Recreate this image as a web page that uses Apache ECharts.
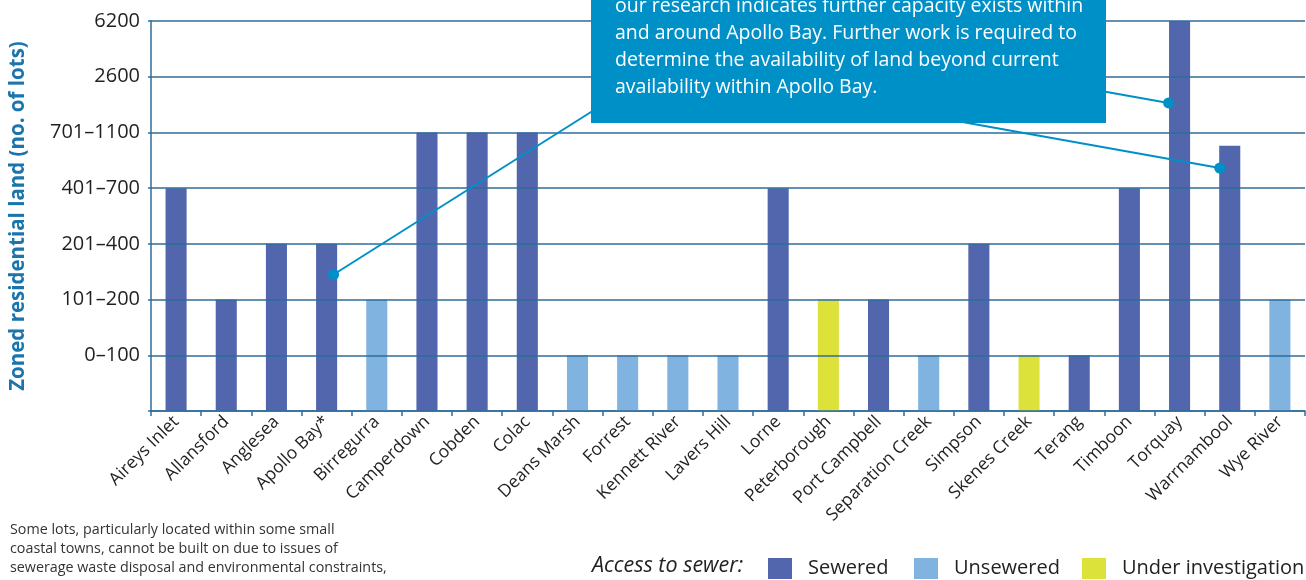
<!DOCTYPE html>
<html>
<head>
<meta charset="utf-8">
<script src="https://cdn.jsdelivr.net/npm/echarts@6/dist/echarts.min.js"></script>
<style>html,body{margin:0;padding:0;background:#fff;}#c{width:1306px;height:580px;}</style>
</head>
<body>
<div id="c"></div>
<script>
// ---- data ----
const categories = ['Aireys Inlet','Allansford','Anglesea','Apollo Bay*','Birregurra','Camperdown','Cobden','Colac','Deans Marsh','Forrest','Kennett River','Lavers Hill','Lorne','Peterborough','Port Campbell','Separation Creek','Simpson','Skenes Creek','Terang','Timboon','Torquay','Warrnambool','Wye River'];
// values are band levels: 1 = 0–100, 2 = 101–200, 3 = 201–400, 4 = 401–700, 5 = 701–1100, 6 = 2600, 7 = 6200
const sewered = [4,2,3,3,null,5,5,5,null,null,null,null,4,null,2,null,3,null,1,4,7,4.76,null];
const unsewered = [null,null,null,null,2,null,null,null,1,1,1,1,null,null,null,1,null,null,null,null,null,null,2];
const underInvestigation = [null,null,null,null,null,null,null,null,null,null,null,null,null,2,null,null,null,1,null,null,null,null,null];
const levelLabels = ['', '0–100', '101–200', '201–400', '401–700', '701–1100', '2600', '6200'];
const seriesNames = ['Sewered','Unsewered','Under investigation'];
const calloutLines = [
  'our research indicates further capacity exists within',
  'and around Apollo Bay. Further work is required to',
  'determine the availability of land beyond current',
  'availability within Apollo Bay.'
];
const noteLines = [
  'Some lots, particularly located within some small',
  'coastal towns, cannot be built on due to issues of',
  'sewerage waste disposal and environmental constraints,',
  'therefore reducing capacity within these small towns.'
];
// callout pointers: [category, level]
const pointers = [['Apollo Bay*', 2.45, 7], ['Torquay', 5.53, -11], ['Warrnambool', 4.36, -10]];

const colors = ['#5266ad','#80b3e0','#dce23a'];
const FONT = '"Open Sans", "Noto Sans", sans-serif';
const axisColor = '#2f6d9c';

const chart = echarts.init(document.getElementById('c'));
const mkSeries = (name, data, i) => ({
  name, type: 'bar', stack: 'all', data, barWidth: '42%',
  itemStyle: { color: colors[i] }, z: 2
});
const legends = [
  { name: seriesNames[0], left: 768 },
  { name: seriesNames[1], left: 914 },
  { name: seriesNames[2], left: 1082 }
].map(l => ({
  data: [l.name], left: l.left, top: 558, itemWidth: 24, itemHeight: 21, itemGap: 0,
  icon: 'rect', padding: 0,
  textStyle: { fontFamily: FONT, fontSize: 20, color: '#222', padding: [0, 0, 0, 11] }
}));

chart.setOption({
  animation: false,
  backgroundColor: '#fff',
  grid: { left: 150, right: 1, top: 21, bottom: 169, containLabel: false },
  legend: legends,
  xAxis: {
    type: 'category', data: categories,
    axisLine: { lineStyle: { color: axisColor, width: 1.5 } },
    axisTick: { show: true, length: 5, lineStyle: { color: axisColor, width: 1.5 } },
    axisLabel: { rotate: 45, fontFamily: FONT, fontSize: 17.5, color: '#231f20', margin: 8, interval: 0 }
  },
  yAxis: {
    type: 'value', min: 0, max: 7, interval: 1, z: 3,
    name: 'Zoned residential land (no. of lots)', nameLocation: 'middle', nameGap: 122,
    nameTextStyle: { fontFamily: FONT, fontSize: 20.5, fontWeight: 'bold', color: '#1b75ad' },
    axisLine: { show: true, lineStyle: { color: axisColor, width: 1.5 } },
    axisTick: { show: true, length: 3, lineStyle: { color: axisColor, width: 1.5 } },
    splitLine: { lineStyle: { color: axisColor, width: 1.5 } },
    axisLabel: { formatter: v => levelLabels[v] || '', fontFamily: FONT, fontSize: 20, color: '#231f20', margin: 11 }
  },
  series: [mkSeries(seriesNames[0], sewered, 0), mkSeries(seriesNames[1], unsewered, 1), mkSeries(seriesNames[2], underInvestigation, 2)]
});

const dots = pointers.map(p => {
  const pt = chart.convertToPixel({ gridIndex: 0 }, [p[0], p[1]]);
  return [pt[0] + p[2], pt[1]];
});
const ends = [[610, 100], [1090, 89], [940, 118]];
const blue = '#0090c8';
const graphic = [];
dots.forEach((d, i) => {
  graphic.push({ type: 'line', shape: { x1: d[0], y1: d[1], x2: ends[i][0], y2: ends[i][1] }, style: { stroke: blue, lineWidth: 2 }, z: 10 });
  graphic.push({ type: 'circle', shape: { cx: d[0], cy: d[1], r: 5.5 }, style: { fill: blue }, z: 11 });
});
graphic.push({ type: 'rect', shape: { x: 591, y: -100, width: 515, height: 223 }, style: { fill: blue }, z: 20 });
graphic.push({ type: 'text', left: 615, top: -7, z: 21, style: { text: calloutLines.join('\n'), fill: '#fff', font: '19.5px ' + FONT, lineHeight: 27 } });
graphic.push({ type: 'text', left: 10, top: 520, z: 21, style: { text: noteLines.join('\n'), fill: '#333', font: '14.3px ' + FONT, lineHeight: 19 } });
graphic.push({ type: 'text', left: 592, top: 555, z: 21, style: { text: 'Access to sewer:', fill: '#222', font: 'italic 21.5px ' + FONT } });
chart.setOption({ graphic });
</script>
</body>
</html>
